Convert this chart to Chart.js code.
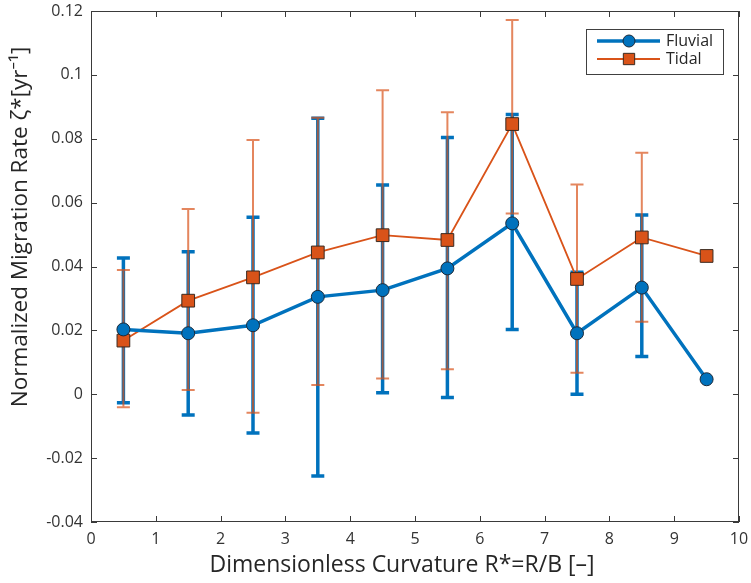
<!DOCTYPE html>
<html lang="en">
<head>
  <meta charset="UTF-8" />
  <title>Migration rate vs curvature</title>
  <script src="https://cdn.jsdelivr.net/npm/chart.js@4.4.1/dist/chart.umd.min.js"></script>
  <style>
    html, body { margin: 0; padding: 0; background: #fff; }
    #wrap { width: 751px; height: 583px; }
  </style>
</head>
<body>
  <div id="wrap"><canvas id="myChart" width="751" height="583"></canvas></div>

  <script>
    // bin centres of R* and the values
    const curvature = [0.5, 1.5, 2.5, 3.5, 4.5, 5.5, 6.5, 7.5, 8.5, 9.5];

    const fluvialMean = [0.0203, 0.0191, 0.0216, 0.0305, 0.0326, 0.0394, 0.0535, 0.0191, 0.0334, 0.0047];
    const fluvialHigh = [0.0427, 0.0446, 0.0554, 0.0864, 0.0655, 0.0804, 0.0876, 0.0382, 0.0561, null];
    const fluvialLow  = [-0.0027, -0.0065, -0.0121, -0.0256, 0.0005, -0.0010, 0.0203, 0.0000, 0.0118, null];

    const tidalMean = [0.0168, 0.0293, 0.0366, 0.0444, 0.0498, 0.0483, 0.0846, 0.0361, 0.0491, 0.0433];
    const tidalHigh = [0.0389, 0.0580, 0.0796, 0.0866, 0.0952, 0.0883, 0.1172, 0.0657, 0.0756, null];
    const tidalLow  = [-0.0041, 0.0013, -0.0058, 0.0029, 0.0049, 0.0078, 0.0566, 0.0067, 0.0227, null];

    const xTitle = "Dimensionless Curvature R*=R/B [\u2013]";
    const yTitle = "Normalized Migration Rate \u03b6*[yr\u207b\u00b9]";

    const blue = "#0072BD";
    const orange = "#D95319";
    const axisColor = "#3a3a3a";
    const fontFamily = "'Open Sans', 'Noto Sans', sans-serif";

    const toPoints = (ys) => curvature.map((x, i) => ({ x: x, y: ys[i] }));

    // error bars drawn under the lines
    const errorBars = {
      id: "errorBars",
      beforeDatasetsDraw(chart) {
        const { ctx, scales: { x, y } } = chart;
        const sets = [
          { hi: fluvialHigh, lo: fluvialLow, color: blue, width: 3.5, cap: 6.5, alpha: 1 },
          { hi: tidalHigh, lo: tidalLow, color: orange, width: 2, cap: 6.5, alpha: 0.7 },
        ];
        ctx.save();
        sets.forEach((s) => {
          ctx.strokeStyle = s.color;
          ctx.lineWidth = s.width;
          ctx.globalAlpha = s.alpha;
          curvature.forEach((cx, i) => {
            if (s.hi[i] === null) return;
            const px = x.getPixelForValue(cx);
            const top = y.getPixelForValue(s.hi[i]);
            const bot = y.getPixelForValue(s.lo[i]);
            ctx.beginPath();
            ctx.moveTo(px, top);
            ctx.lineTo(px, bot);
            ctx.moveTo(px - s.cap, top);
            ctx.lineTo(px + s.cap, top);
            ctx.moveTo(px - s.cap, bot);
            ctx.lineTo(px + s.cap, bot);
            ctx.stroke();
          });
        });
        ctx.restore();
      },
    };

    // matlab style box: frame, inward ticks, axis titles, legend
    const matlabBox = {
      id: "matlabBox",
      afterDraw(chart) {
        const { ctx, chartArea: a, scales: { x, y } } = chart;
        ctx.save();
        ctx.strokeStyle = axisColor;
        ctx.lineWidth = 1;
        ctx.strokeRect(a.left + 0.5, a.top + 0.5, a.right - a.left - 1, a.bottom - a.top - 1);

        const len = 6;
        ctx.beginPath();
        x.ticks.forEach((t) => {
          const px = Math.round(x.getPixelForValue(t.value)) + 0.5;
          ctx.moveTo(px, a.bottom);
          ctx.lineTo(px, a.bottom - len);
          ctx.moveTo(px, a.top);
          ctx.lineTo(px, a.top + len);
        });
        y.ticks.forEach((t) => {
          const py = Math.round(y.getPixelForValue(t.value)) + 0.5;
          ctx.moveTo(a.left, py);
          ctx.lineTo(a.left + len, py);
          ctx.moveTo(a.right, py);
          ctx.lineTo(a.right - len, py);
        });
        ctx.stroke();

        // axis titles
        ctx.fillStyle = "#262626";
        ctx.textAlign = "center";
        ctx.textBaseline = "middle";
        ctx.font = "23px " + fontFamily;
        ctx.fillText(xTitle, 402, 565);
        ctx.save();
        ctx.translate(21, 227);
        ctx.rotate(-Math.PI / 2);
        ctx.font = "22.5px " + fontFamily;
        ctx.fillText(yTitle, 0, 0);
        ctx.restore();

        // legend
        const lx = 586, ly = 29, lw = 137, lh = 45;
        ctx.fillStyle = "#fff";
        ctx.fillRect(lx, ly, lw, lh);
        ctx.strokeStyle = "#404040";
        ctx.lineWidth = 1;
        ctx.strokeRect(lx + 0.5, ly + 0.5, lw, lh);
        chart.data.datasets.forEach((ds, i) => {
          const rowY = ly + 12 + i * 18;
          ctx.strokeStyle = ds.borderColor;
          ctx.lineWidth = ds.borderWidth;
          ctx.beginPath();
          ctx.moveTo(lx + 11, rowY);
          ctx.lineTo(lx + 74, rowY);
          ctx.stroke();
          ctx.fillStyle = ds.pointBackgroundColor;
          ctx.strokeStyle = ds.pointBorderColor;
          ctx.lineWidth = ds.pointBorderWidth;
          Chart.helpers.drawPoint(ctx, {
            pointStyle: ds.pointStyle,
            rotation: 0,
            radius: ds.pointStyle === "rect" ? 8 : 6,
            borderWidth: ds.pointBorderWidth,
          }, lx + 43, rowY);
          ctx.fillStyle = "#262626";
          ctx.font = "16px " + fontFamily;
          ctx.textAlign = "left";
          ctx.textBaseline = "middle";
          ctx.fillText(ds.label, lx + 80, rowY);
        });
        ctx.restore();
      },
    };

    new Chart(document.getElementById("myChart"), {
      type: "line",
      data: {
        datasets: [
          {
            label: "Fluvial",
            data: toPoints(fluvialMean),
            borderColor: blue,
            borderWidth: 3.5,
            pointStyle: "circle",
            pointRadius: 6.5,
            pointBackgroundColor: blue,
            pointBorderColor: "#1b2a3a",
            pointBorderWidth: 1,
            tension: 0,
          },
          {
            label: "Tidal",
            data: toPoints(tidalMean),
            borderColor: orange,
            borderWidth: 1.8,
            pointStyle: "rect",
            pointRadius: 9,
            pointBackgroundColor: orange,
            pointBorderColor: "#3a2a20",
            pointBorderWidth: 1,
            tension: 0,
          },
        ],
      },
      options: {
        responsive: false,
        animation: false,
        layout: { padding: { top: 11, right: 12, left: 0, bottom: 0 } },
        plugins: { legend: { display: false }, tooltip: { enabled: false } },
        scales: {
          x: {
            type: "linear",
            min: 0,
            max: 10,
            grid: { display: false, drawTicks: false },
            border: { display: false },
            ticks: {
              stepSize: 1,
              padding: 8,
              color: "#333",
              font: { family: fontFamily, size: 16 },
              maxRotation: 0,
            },
            afterFit: (scale) => {
              scale.height = 61;
              scale.paddingLeft = 0;
              scale.paddingRight = 0;
            },
          },
          y: {
            min: -0.04,
            max: 0.12,
            grid: { display: false, drawTicks: false },
            border: { display: false },
            ticks: {
              stepSize: 0.02,
              padding: 8,
              color: "#333",
              font: { family: fontFamily, size: 16 },
              callback: (v) => String(Number(v.toFixed(2))),
            },
            afterFit: (scale) => {
              scale.width = 91;
              scale.paddingTop = 0;
              scale.paddingBottom = 0;
            },
          },
        },
      },
      plugins: [errorBars, matlabBox],
    });
  </script>
</body>
</html>
